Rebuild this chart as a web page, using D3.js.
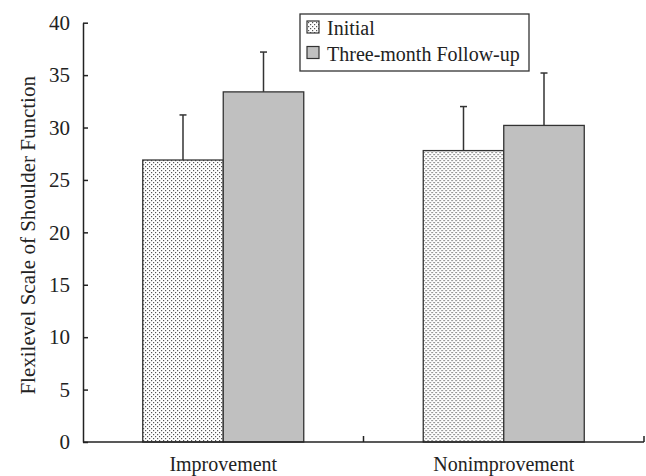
<!DOCTYPE html>
<html>
<head>
<meta charset="utf-8">
<script src="https://cdn.jsdelivr.net/npm/d3@7"></script>
<style>
  html, body { margin: 0; padding: 0; background: #fff; }
  svg { display: block; }
</style>
</head>
<body>
<svg id="chart" width="646" height="476"></svg>
<script>
const categories = ["Improvement", "Nonimprovement"];
const seriesNames = ["Initial", "Three-month Follow-up"];
const initialValues = [26.9, 27.8];
const followupValues = [33.4, 30.2];
const initialErrors = [4.3, 4.2];
const followupErrors = [3.8, 5.0];
const yTicks = [0, 5, 10, 15, 20, 25, 30, 35, 40];
const yLabel = "Flexilevel Scale of Shoulder Function";

const FONT = '"Liberation Serif", "Times New Roman", Times, serif';
const svg = d3.select("#chart");
const W = 646, H = 476;
const m = { top: 22.7, right: 2, bottom: 34, left: 83 };

const defs = svg.append("defs");
const pat = defs.append("pattern").attr("id", "dots")
  .attr("patternUnits", "userSpaceOnUse").attr("width", 4).attr("height", 4);
pat.append("rect").attr("width", 4).attr("height", 4).attr("fill", "#fff");
pat.append("rect").attr("x", 0).attr("y", 0).attr("width", 1.2).attr("height", 1.2).attr("fill", "#555");
pat.append("rect").attr("x", 2).attr("y", 2).attr("width", 1.2).attr("height", 1.2).attr("fill", "#555");

const fills = ["url(#dots)", "#c0c0c0"];

const y = d3.scaleLinear().domain([0, 40]).range([H - m.bottom, m.top]);
const x0 = d3.scaleBand().domain(categories).range([m.left, W - m.right]).padding(0);
const bw = x0.bandwidth();
const groupW = bw * 0.574;
const x1 = d3.scaleBand().domain(seriesNames).range([(bw - groupW) / 2, (bw + groupW) / 2]).padding(0);

const data = categories.map((c, i) => ({
  cat: c,
  vals: [
    { s: seriesNames[0], v: initialValues[i], e: initialErrors[i], f: fills[0] },
    { s: seriesNames[1], v: followupValues[i], e: followupErrors[i], f: fills[1] }
  ]
}));

const g = svg.append("g");
const groups = g.selectAll("g.grp").data(data).join("g")
  .attr("transform", d => `translate(${x0(d.cat)},0)`);

// error bars (upper only)
groups.selectAll("g.err").data(d => d.vals).join("g").each(function(d) {
  const cx = x1(d.s) + x1.bandwidth() / 2;
  const sel = d3.select(this);
  sel.append("line").attr("x1", cx).attr("x2", cx)
    .attr("y1", y(d.v)).attr("y2", y(d.v + d.e))
    .attr("stroke", "#333").attr("stroke-width", 1.5);
  sel.append("line").attr("x1", cx - 3.5).attr("x2", cx + 3.5)
    .attr("y1", y(d.v + d.e)).attr("y2", y(d.v + d.e))
    .attr("stroke", "#333").attr("stroke-width", 1.5);
});

groups.selectAll("rect").data(d => d.vals).join("rect")
  .attr("x", d => x1(d.s))
  .attr("width", x1.bandwidth())
  .attr("y", d => y(d.v))
  .attr("height", d => y(0) - y(d.v))
  .attr("fill", d => d.f)
  .attr("stroke", "#333").attr("stroke-width", 1.3);

// Y axis
const yAxis = d3.axisLeft(y).tickValues(yTicks).tickSize(-5).tickPadding(13).tickSizeOuter(0);
const ya = svg.append("g").attr("transform", `translate(${m.left},0)`).call(yAxis);
ya.select(".domain").attr("stroke", "#222").attr("stroke-width", 1.5);
ya.selectAll(".tick line").attr("stroke", "#222").attr("stroke-width", 1.5);
ya.selectAll(".tick text").attr("font-size", 21).attr("fill", "#222").style("font-family", FONT);

// X axis
const xa = svg.append("g").attr("transform", `translate(0,${y(0)})`);
xa.append("line").attr("x1", m.left).attr("x2", W - m.right).attr("y1", 0).attr("y2", 0)
  .attr("stroke", "#222").attr("stroke-width", 1.5);
const bounds = categories.map(c => x0(c) + bw);
xa.selectAll("line.tk").data(bounds).join("line").attr("class", "tk")
  .attr("x1", d => d).attr("x2", d => d).attr("y1", 0).attr("y2", -6)
  .attr("stroke", "#222").attr("stroke-width", 1.5);
xa.selectAll("text").data(categories).join("text")
  .attr("x", d => x0(d) + bw / 2).attr("y", 29)
  .attr("text-anchor", "middle").attr("font-size", 20).attr("fill", "#222")
  .style("font-family", FONT)
  .text(d => d);

// Y label
svg.append("text")
  .attr("transform", `translate(35,${(y(0) + y(40)) / 2 + 3}) rotate(-90)`)
  .attr("text-anchor", "middle").attr("font-size", 21).attr("fill", "#222")
  .style("font-family", FONT)
  .text(yLabel);

// Legend
const lg = svg.append("g").attr("transform", "translate(300,14)");
lg.append("rect").attr("x", 0).attr("y", 0).attr("width", 229).attr("height", 57)
  .attr("fill", "#fff").attr("stroke", "#333").attr("stroke-width", 1.3);
seriesNames.forEach((s, i) => {
  lg.append("rect").attr("x", 7).attr("y", 7 + i * 25.5).attr("width", 12).attr("height", 12)
    .attr("fill", fills[i]).attr("stroke", "#333").attr("stroke-width", 1.2);
  lg.append("text").attr("x", 27).attr("y", 21 + i * 25.5)
    .attr("font-size", 20).attr("fill", "#222").style("font-family", FONT).text(s);
});
</script>
</body>
</html>
